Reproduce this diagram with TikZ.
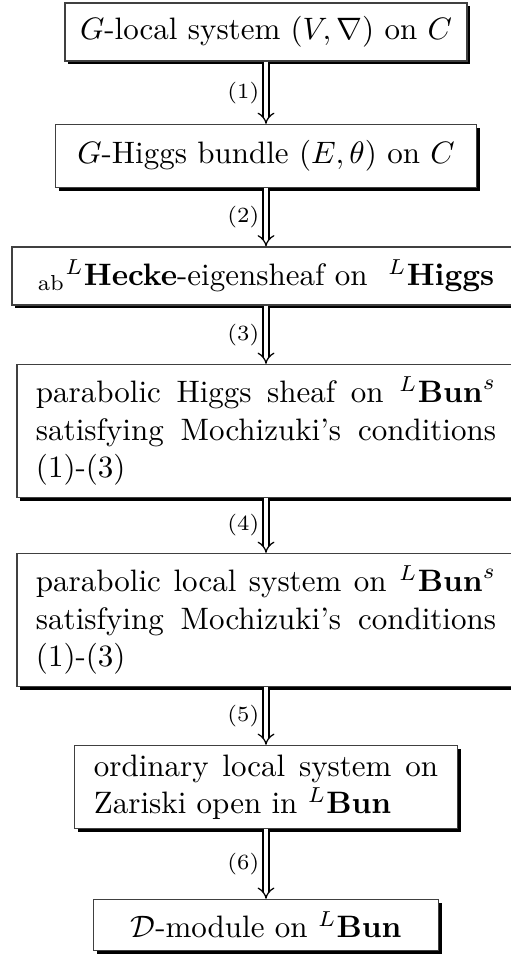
\documentclass[tikz,border=0pt]{standalone}
\usepackage{amssymb}
\usetikzlibrary{arrows.meta,shadows}

\begin{document}
\begin{tikzpicture}[x=0.3226pt, y=-0.3226pt,
		stage/.style={draw=black!75, fill=white, line width=0.4pt, inner sep=0pt,
			drop shadow={shadow xshift=1.1pt, shadow yshift=-1.1pt, fill=black, opacity=1}},
		conn/.style={double, double distance=1.5pt, line width=0.4pt, -{Implies}},
		steplabel/.style={left, font=\scriptsize, inner sep=2pt}]
		%%%%% START %%%%%
		\useasboundingbox (0, 0) rectangle (511, 955);
		
		\node[stage, minimum width=129.7pt, minimum height=18.7pt] (local) at (266, 32) {$G$-local system $(V,\nabla)$ on $C$};
		\node[stage, minimum width=135.8pt, minimum height=20.3pt] (higgs) at (266, 156) {$G$-Higgs bundle $(E,\theta)$ on $C$};
		\node[stage, minimum width=163.9pt, minimum height=18.7pt] (hecke) at (266, 276) {${}_{\mathrm{ab}}{}^L\mathbf{Hecke}$-eigensheaf on \ ${}^L\mathbf{Higgs}$};
		
		\node[stage, text width=148.4pt, inner xsep=6.1pt, align=justify, minimum height=42.9pt] (parhiggs) at (266, 431)
			{parabolic Higgs sheaf on ${}^L\mathbf{Bun}^s$\linebreak satisfying Mochizuki's conditions\linebreak (1)-(3)};
		\node[stage, text width=148.4pt, inner xsep=6.1pt, align=justify, minimum height=42.9pt] (parlocal) at (266, 620)
			{parabolic local system on ${}^L\mathbf{Bun}^s$\linebreak satisfying Mochizuki's conditions\linebreak (1)-(3)};
		\node[stage, text width=111pt, inner xsep=6.3pt, align=justify, minimum height=26.8pt] (ordinary) at (266, 787)
			{ordinary local system on\linebreak Zariski open in ${}^L\mathbf{Bun}$};
		
		\node[stage, minimum width=111.3pt, minimum height=16.5pt] (dmod) at (266, 925) {$\mathcal{D}$-module on ${}^L\mathbf{Bun}$};
		
		\draw[conn] (local) -- node[steplabel] (l1) {(1)} (higgs);
		\draw[conn] (higgs) -- node[steplabel] (l2) {(2)} (hecke);
		\draw[conn] (hecke) -- node[steplabel] (l3) {(3)} (parhiggs);
		\draw[conn] (parhiggs) -- node[steplabel] (l4) {(4)} (parlocal);
		\draw[conn] (parlocal) -- node[steplabel] (l5) {(5)} (ordinary);
		\draw[conn] (ordinary) -- node[steplabel] (l6) {(6)} (dmod);
		%%%%% END %%%%%
\end{tikzpicture}
\end{document}
